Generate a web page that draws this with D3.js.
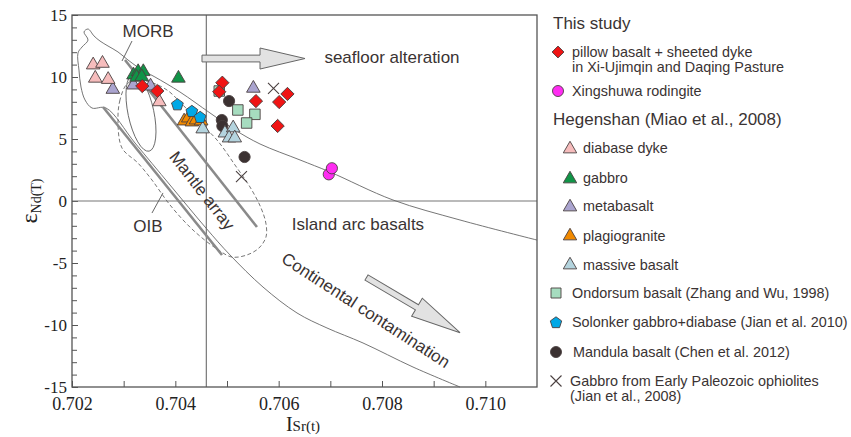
<!DOCTYPE html>
<html>
<head>
<meta charset="utf-8">
<script src="https://cdn.jsdelivr.net/npm/d3@7"></script>
<style>
  body { margin: 0; background: #fff; }
  text { fill: #3a3333; }
  .ann { font-family: "Liberation Sans", Arial, sans-serif; font-size: 17px; }
  .leg { font-family: "Liberation Sans", Arial, sans-serif; font-size: 14.4px; }
  .legh { font-family: "Liberation Sans", Arial, sans-serif; font-size: 17px; }
  .axis text { font-family: "Liberation Serif", "Times New Roman", serif; font-size: 18px; fill: #222; }
  .yaxis text { font-size: 17px; }
  .axis line { stroke: #555; }
  .axis path { display: none; }
</style>
</head>
<body>
<svg width="851" height="437"></svg>
<script>
var margin = { top: 15, right: 314, bottom: 50, left: 72 }
    , width = 851 - margin.left - margin.right
    , height = 437 - margin.top - margin.bottom;

// ---- data (ISr(t), eNd(T)) ----
var pillowBasalt = [[0.70336, 9.27], [0.70365, 8.87], [0.70491, 9.54], [0.70485, 8.81],
    [0.70556, 8.06], [0.70601, 7.98], [0.70617, 8.63], [0.70598, 6.05]];
var rodingite = [[0.70697, 2.15], [0.70703, 2.64]];
var diabaseDyke = [[0.70241, 10.97], [0.70259, 11.1], [0.70245, 9.9], [0.70270, 9.8], [0.70369, 8.0]];
var gabbro = [[0.70319, 10.16], [0.70328, 10.43], [0.70338, 10.43], [0.70325, 9.98], [0.70335, 10.02], [0.70406, 9.9]];
var metabasalt = [[0.70279, 9.0], [0.70319, 9.35], [0.70352, 9.27], [0.70551, 9.09]];
var plagiogranite = [[0.70417, 6.45], [0.70425, 6.69], [0.70432, 6.37], [0.70440, 6.53], [0.70450, 6.45]];
var massiveBasalt = [[0.70453, 5.81], [0.70496, 5.48], [0.70512, 5.89], [0.70504, 5.08], [0.70515, 5.08]];
var ondorsum = [[0.70485, 8.87], [0.70521, 7.34], [0.70554, 6.99], [0.70538, 6.29]];
var solonker = [[0.70404, 7.82], [0.70432, 7.28], [0.70448, 6.80]];
var mandula = [[0.70504, 8.06], [0.70490, 6.53], [0.70491, 6.05], [0.70534, 3.55]];
var ophiolite = [[0.70590, 9.09], [0.70528, 1.96]];

// field outlines
// envelope: island arc upper edge -> MORB field -> continental contamination lower edge
var arcEdge = [[0.711, -3.15], [0.709509, -1.53], [0.708213, 0.08], [0.706993, 2.34], [0.706413, 3.31],
    [0.705638, 4.60], [0.705155, 5.73], [0.704671, 7.10], [0.704090, 8.79], [0.703606, 10.0], [0.703316, 10.65]];
var morbEdge = [[0.703239, 10.89], [0.703084, 11.37], [0.702890, 12.02], [0.702697, 12.50], [0.702542, 12.90],
    [0.702426, 13.31], [0.702310, 13.87], [0.702232, 13.63], [0.702310, 12.98], [0.702194, 12.42],
    [0.702116, 11.94], [0.702135, 10.56], [0.702174, 9.19], [0.702252, 8.15], [0.702387, 7.50]];
var contamEdge = [[0.702658, 7.50], [0.703219, 4.68], [0.703897, 1.29], [0.704593, -2.18], [0.705058, -4.35],
    [0.705697, -6.94], [0.706355, -9.03], [0.706935, -10.24], [0.707632, -11.45], [0.708600, -13.39], [0.709509, -15.0]];
var mantleArrayField = [[0.703064, 9.44], [0.702929, 8.15], [0.702890, 6.53], [0.702968, 4.27], [0.703277, 3.06],
    [0.703548, 1.69], [0.703897, -0.32], [0.704342, -2.34], [0.704806, -3.87], [0.705097, -4.52],
    [0.705387, -4.35], [0.705619, -3.79], [0.705755, -2.90], [0.705755, -1.85], [0.705658, -0.56],
    [0.705445, 1.13], [0.705155, 2.90], [0.704806, 4.92], [0.704419, 6.53], [0.704129, 7.82],
    [0.703839, 8.95], [0.703510, 9.60], [0.703258, 9.76]];
var mantleLineUpper = [[0.703026, 11.37], [0.705580, -2.10]];
var mantleLineLower = [[0.702600, 7.58], [0.704903, -4.35]];
var oibEllipse = { sr: 0.703335, nd: 7.1, dSr: 0.00025, dNd: 3.15, angle: -12 };
var bulkEarthSr = 0.7046;

var xTicks = [0.702, 0.704, 0.706, 0.708, 0.710];
var xMinor = [0.703, 0.705, 0.707, 0.709];
var yTicks = [-15, -10, -5, 0, 5, 10, 15];

var colors = {
    pillow: "#f01414", rodingite: "#ff2cf2", diabase: "#f6bcbc", gabbro: "#109447",
    metabasalt: "#aaa4cf", plagio: "#f28a00", massive: "#b4d4de", ondorsum: "#a6dcbf",
    solonker: "#00a8e6", mandula: "#3b3131"
};

var svg = d3.select("svg");
var g = svg.append("g").attr("transform", "translate(" + margin.left + "," + margin.top + ")");

var x = d3.scaleLinear().domain([0.702, 0.711]).range([0, width]);
var y = d3.scaleLinear().domain([-15, 15]).range([height, 0]);

var line = d3.line().x(function (d) { return x(d[0]); }).y(function (d) { return y(d[1]); });
var smooth = d3.line().x(function (d) { return x(d[0]); }).y(function (d) { return y(d[1]); })
    .curve(d3.curveCatmullRom.alpha(0.5));
var smoothClosed = d3.line().x(function (d) { return x(d[0]); }).y(function (d) { return y(d[1]); })
    .curve(d3.curveCatmullRomClosed.alpha(0.5));

// axes
g.append("g").attr("class", "axis")
    .attr("transform", "translate(0," + height + ")")
    .call(d3.axisBottom(x).tickValues(xTicks).tickSizeInner(-6).tickPadding(10)
        .tickFormat(d3.format(".3f")));
g.append("g").attr("class", "axis")
    .attr("transform", "translate(0," + height + ")")
    .call(d3.axisBottom(x).tickValues(xMinor).tickSizeInner(-6).tickFormat(""));
g.append("g").attr("class", "axis yaxis")
    .call(d3.axisLeft(y).tickValues(yTicks).tickSizeInner(-6).tickPadding(5)
        .tickFormat(function (d) { return String(d); }));
g.append("g").attr("class", "axis")
    .call(d3.axisLeft(y).tickValues(d3.range(-15, 16).filter(function (d) { return d % 5 != 0; }))
        .tickSizeInner(-5).tickFormat(""));

// reference lines
g.append("line").attr("x1", x(bulkEarthSr)).attr("x2", x(bulkEarthSr)).attr("y1", 0).attr("y2", height)
    .attr("stroke", "#777").attr("stroke-width", 1.2);
g.append("line").attr("x1", 0).attr("x2", width).attr("y1", y(0)).attr("y2", y(0))
    .attr("stroke", "#777").attr("stroke-width", 1.2);

// fields
var envelope = arcEdge.concat(morbEdge).concat(contamEdge);
g.append("path").attr("d", smooth(envelope)).attr("fill", "none")
    .attr("stroke", "#666").attr("stroke-width", 0.9);
g.append("path").attr("d", smoothClosed(mantleArrayField))
    .attr("fill", "none").attr("stroke", "#666").attr("stroke-width", 0.9).attr("stroke-dasharray", "4,2.5");
[mantleLineUpper, mantleLineLower].forEach(function (l) {
    g.append("path").attr("d", line(l)).attr("stroke", "#8a8a8a").attr("stroke-width", 2.6).attr("fill", "none");
});
var ecx = x(oibEllipse.sr), ecy = y(oibEllipse.nd);
g.append("ellipse").attr("cx", ecx).attr("cy", ecy)
    .attr("rx", x(oibEllipse.sr + oibEllipse.dSr) - ecx)
    .attr("ry", ecy - y(oibEllipse.nd + oibEllipse.dNd))
    .attr("transform", "rotate(" + oibEllipse.angle + "," + ecx + "," + ecy + ")")
    .attr("fill", "none").attr("stroke", "#666").attr("stroke-width", 0.9);

// block arrows
function blockArrow(p0, p1, sw, hw, hl) {
    var x0 = x(p0[0]), y0 = y(p0[1]), x1 = x(p1[0]), y1 = y(p1[1]);
    var len = Math.hypot(x1 - x0, y1 - y0), ang = Math.atan2(y1 - y0, x1 - x0) * 180 / Math.PI;
    var pts = [[0, -sw], [len - hl, -sw], [len - hl, -hw], [len, 0], [len - hl, hw], [len - hl, sw], [0, sw]];
    g.append("path").attr("d", "M" + pts.join("L") + "Z")
        .attr("transform", "translate(" + x0 + "," + y0 + ") rotate(" + ang + ")")
        .attr("fill", "#e2e2e2").attr("stroke", "#666").attr("stroke-width", 1);
}
blockArrow([0.704516, 11.49], [0.70651, 11.49], 3.4, 10.5, 45);
blockArrow([0.70770, -6.17], [0.70951, -10.62], 3, 10.5, 50);

// annotations
function label(t, p, rot) {
    g.append("text").attr("class", "ann").attr("text-anchor", "middle").attr("dy", "0.35em")
        .attr("transform", "translate(" + x(p[0]) + "," + y(p[1]) + ") rotate(" + (rot || 0) + ")")
        .text(t);
}
label("MORB", [0.703471, 13.71]);
label("OIB", [0.703471, -2.02]);
label("Mantle array", [0.70452, 0.85], 52);
label("Island arc basalts", [0.707535, -1.85]);
label("Continental contamination", [0.70769, -8.8], 33);
label("seafloor alteration", [0.708193, 11.61]);
[[[0.703161, 12.90], [0.702968, 11.29]], [[0.703548, -0.97], [0.703761, 0.65]]].forEach(function (l) {
    g.append("path").attr("d", line(l)).attr("stroke", "#555").attr("stroke-width", 0.9);
});

// markers
var stroke = "#4a4040";
function shape(sel, kind, size) {
    if (kind == "circle") return sel.append("circle").attr("r", size);
    if (kind == "cross") {
        var c = sel.append("path").attr("d", "M" + -size + "," + -size + "L" + size + "," + size +
            "M" + -size + "," + size + "L" + size + "," + -size);
        return c.attr("fill", "none");
    }
    if (kind == "pentagon") {
        var pts = d3.range(5).map(function (k) {
            var a = (-90 + 72 * k) * Math.PI / 180;
            return [size * Math.cos(a), size * Math.sin(a) + 0.8];
        });
        return sel.append("path").attr("d", "M" + pts.join("L") + "Z");
    }
    if (kind == "diamond") return sel.append("path").attr("d", d3.symbol(d3.symbolSquare, size)()).attr("transform", "rotate(45)");
    if (kind == "square") return sel.append("path").attr("d", d3.symbol(d3.symbolSquare, size)());
    return sel.append("path").attr("d", d3.symbol(d3.symbolTriangle, size)());
}
function drawSeries(data, kind, size, fill) {
    data.forEach(function (d) {
        var m = g.append("g").attr("transform", "translate(" + x(d[0]) + "," + y(d[1]) + ")");
        var s = shape(m, kind, size).attr("stroke", stroke).attr("stroke-width", kind == "cross" ? 1.1 : 0.9);
        if (kind != "cross") s.attr("fill", fill);
    });
}
drawSeries(ondorsum, "square", 110, colors.ondorsum);
drawSeries(mandula, "circle", 5.6, colors.mandula);
drawSeries(metabasalt, "triangle", 80, colors.metabasalt);
drawSeries(diabaseDyke, "triangle", 80, colors.diabase);
drawSeries(gabbro, "triangle", 80, colors.gabbro);
drawSeries(plagiogranite, "triangle", 80, colors.plagio);
drawSeries(massiveBasalt, "triangle", 80, colors.massive);
drawSeries(solonker, "pentagon", 6.2, colors.solonker);
drawSeries(ophiolite, "cross", 5.5);
drawSeries(rodingite, "circle", 5.6, colors.rodingite);
drawSeries(pillowBasalt, "diamond", 88, colors.pillow);

// frame
g.append("rect").attr("width", width).attr("height", height)
    .attr("fill", "none").attr("stroke", "#555").attr("stroke-width", 1.3);

// axis titles
var xt = svg.append("text").attr("x", 303).attr("y", 431).attr("text-anchor", "middle")
    .style("font-family", "Liberation Serif, serif").style("fill", "#222");
xt.append("tspan").style("font-size", "20px").text("I");
xt.append("tspan").style("font-size", "15px").text("Sr(t)");
var yt = svg.append("text").attr("transform", "translate(37,201) rotate(-90)").attr("text-anchor", "middle")
    .style("font-family", "Liberation Serif, serif").style("fill", "#222");
yt.append("tspan").style("font-size", "24px").text("\u03b5");
yt.append("tspan").style("font-size", "14px").attr("dy", 4).text("Nd(T)");

// legend
var legendHeads = [["This study", 29], ["Hegenshan (Miao et al., 2008)", 125]];
var legendItems = [
    { kind: "diamond", fill: colors.pillow, cx: 558, cy: 52, tx: 572, ty: 57, lines: ["pillow basalt + sheeted dyke", "in Xi-Ujimqin and Daqing Pasture"] },
    { kind: "circle", fill: colors.rodingite, cx: 558, cy: 91, tx: 572, ty: 96, lines: ["Xingshuwa rodingite"] },
    { kind: "triangle", fill: colors.diabase, cx: 570, cy: 149, tx: 583, ty: 153, lines: ["diabase dyke"] },
    { kind: "triangle", fill: colors.gabbro, cx: 570, cy: 179, tx: 583, ty: 183, lines: ["gabbro"] },
    { kind: "triangle", fill: colors.metabasalt, cx: 570, cy: 207, tx: 583, ty: 211, lines: ["metabasalt"] },
    { kind: "triangle", fill: colors.plagio, cx: 570, cy: 236, tx: 583, ty: 241, lines: ["plagiogranite"] },
    { kind: "triangle", fill: colors.massive, cx: 570, cy: 265, tx: 583, ty: 270, lines: ["massive basalt"] },
    { kind: "square", fill: colors.ondorsum, cx: 556, cy: 293, tx: 572, ty: 298, lines: ["Ondorsum basalt (Zhang and Wu, 1998)"] },
    { kind: "pentagon", fill: colors.solonker, cx: 556, cy: 322, tx: 572, ty: 327, lines: ["Solonker gabbro+diabase (Jian et al. 2010)"] },
    { kind: "circle", fill: colors.mandula, cx: 556, cy: 352, tx: 573, ty: 357, lines: ["Mandula basalt (Chen et al. 2012)"] },
    { kind: "cross", fill: null, cx: 556, cy: 381, tx: 570, ty: 386, lines: ["Gabbro from Early Paleozoic ophiolites", "(Jian et al., 2008)"] }
];
var sizes = { diamond: 70, circle: 5.5, triangle: 78, square: 100, pentagon: 6, cross: 5.5 };
legendHeads.forEach(function (h) {
    svg.append("text").attr("class", "legh").attr("x", 553).attr("y", h[1]).text(h[0]);
});
legendItems.forEach(function (it) {
    var m = svg.append("g").attr("transform", "translate(" + it.cx + "," + it.cy + ")");
    var s = shape(m, it.kind, sizes[it.kind]).attr("stroke", stroke).attr("stroke-width", it.kind == "cross" ? 1.1 : 0.9);
    if (it.fill) s.attr("fill", it.fill);
    it.lines.forEach(function (t, i) {
        svg.append("text").attr("class", "leg").attr("x", it.tx).attr("y", it.ty + i * 15).text(t);
    });
});
</script>
</body>
</html>
